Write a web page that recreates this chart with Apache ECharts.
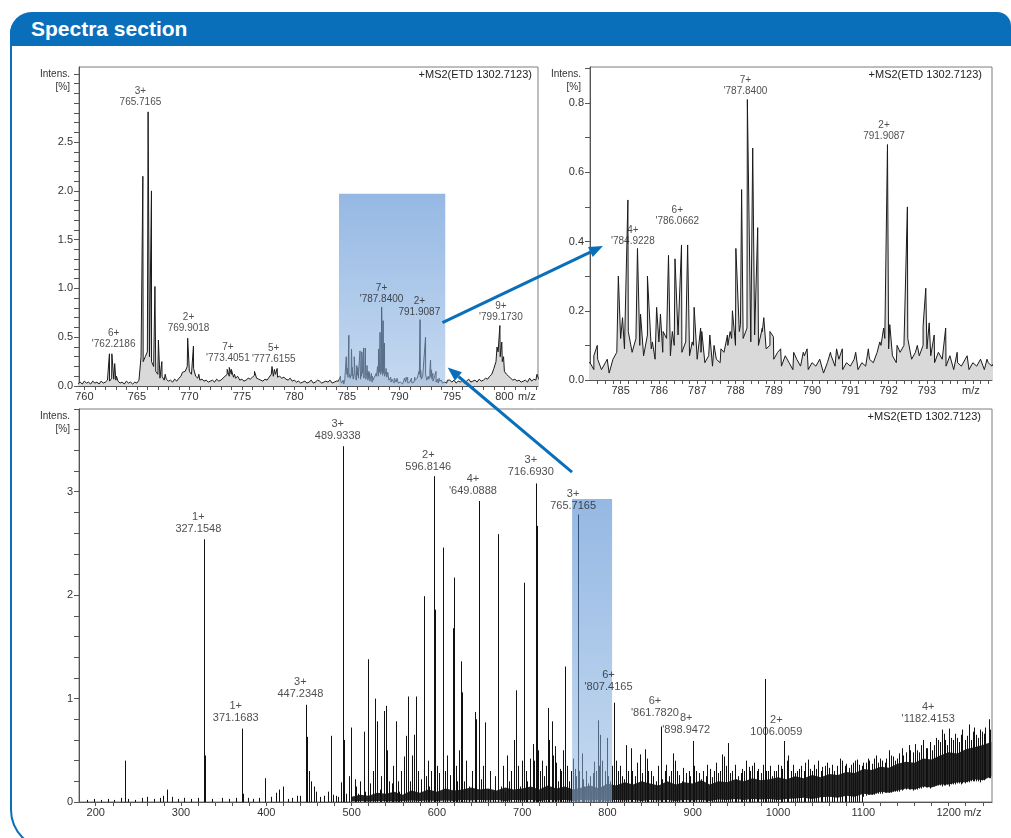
<!DOCTYPE html>
<html>
<head>
<meta charset="utf-8">
<script src="https://cdn.jsdelivr.net/npm/echarts@6/dist/echarts.min.js"></script>
<style>
html, body { margin: 0; padding: 0; width: 1011px; height: 838px; overflow: hidden; background: #fff; }
#frame { position: absolute; left: 10px; top: 12px; width: 1060px; height: 838px; box-sizing: border-box;
  border-left: 2px solid #0a6fba; border-bottom: 2px solid #0a6fba; border-top-left-radius: 22px; border-bottom-left-radius: 40px; }
#head { position: absolute; left: 10px; top: 12px; width: 1001px; height: 34px; box-sizing: border-box; padding-left: 21px;
  background: #0a6fba; border-top-left-radius: 22px; border-top-right-radius: 14px;
  color: #fff; font: bold 21px "Liberation Sans", Arial, sans-serif; line-height: 34px; }
#chart { position: absolute; left: 0; top: 0; width: 1011px; height: 838px; }
</style>
</head>
<body>
<div id="frame"></div>
<div id="head">Spectra section</div>
<div id="chart"></div>
<script>
// ---- profile spectrum 759-804 m/z (shared by the two upper panels) ----
var noiseWideStart = 759.4, noiseWideStep = 0.2;
var noiseWide = [
    .02, .04, .02,
    .05, .03, .04, .02, .05,  .03, .04, .02, .05, .03,  .04, .06, .05, .08, .07,
    .06, .05, .03, .04, .02,  .05, .03, .04, .02, .04,  .03, .06, .30, .25, .30,
    .35, .30, .25, .20, .15,  .12, .08, .10, .06, .07,  .05, .06, .04, .07, .05,
    .08, .10, .12, .15, .20,  .15, .12, .18, .10, .08,  .06, .07, .05, .06, .04,
    .05, .06, .04, .07, .05,  .06, .08, .10, .12, .10,  .12, .09, .08, .10, .06,
    .07, .05, .06, .08, .07,  .09, .11, .08, .07, .06,  .05, .07, .06, .09, .12,
    .10, .12, .09, .10, .08,  .09, .07, .06, .08, .05,  .06, .04, .05, .03, .04,
    .05, .03, .04, .06, .03,  .04, .06, .05, .03, .04,  .05, .04, .06, .03, .04,
    .05
];
var noiseZoomStart = 784.2, noiseZoomStep = 0.1;
var noiseZoom = [
    .05, .03, .06, .03, .05, .02, .06, .08,
    .12, .09, .14, .08, .12, .10, .07, .13, .09, .06,
    .11, .08, .12, .07, .10, .13, .08, .11, .07, .10,
    .06, .08, .05, .07, .04, .06, .05, .08, .10, .12,
    .10, .14, .12, .15, .11, .13, .10, .15, .09, .10,
    .06, .08, .04, .07, .05, .03, .06, .04, .07, .03,
    .05, .04, .06, .02, .05, .07, .04, .06, .03, .05,
    .04, .06, .03, .05, .04, .06, .05, .08, .10, .12,
    .09, .07, .05, .08, .10, .12, .06, .08, .07, .10,
    .09, .07, .05, .08, .06, .04, .07, .03, .05, .04,
    .06, .03, .05, .04, .06, .03, .05, .04, .06
];
var noiseTailStart = 795.0, noiseTailStep = 0.2;
var noiseTail = [
    .04, .06, .03, .05, .04,  .06, .03, .05, .07, .04,  .05, .06, .04, .07, .05,
    .06, .08, .07, .10, .12,  .18, .25, .35, .30, .25,  .15, .12, .10, .08, .06,
    .07, .05, .06, .04, .05,  .06, .04, .08, .05, .07,  .06, .09, .05
];
var peaksProfile = [
    [762.39, .33], [762.62, .33], [762.89, .23], [763.06, .10],
    [765.57, 2.15], [766.07, 2.81], [766.39, 2.00], [766.72, 1.02], [767.05, .47], [767.38, .25], [767.70, .12],
    [769.34, .14], [769.84, .49], [770.39, .41], [770.90, .12],
    [773.60, .17], [773.80, .19], [774.00, .17], [774.30, .12], [776.20, .15], [776.45, .10],
    [777.87, .20], [778.10, .17], [778.36, .18], [778.60, .10], [782.30, .06],
    [784.30, .07], [784.39, .10], [784.65, .06], [784.94, .30], [785.05, .18], [785.19, .52], [785.44, .38],
    [785.52, .19], [785.70, .30], [785.83, .11], [785.94, .21], [786.04, .19], [786.11, .14], [786.25, .36],
    [786.35, .14], [786.42, .35], [786.59, .39], [786.75, .39], [786.87, .11], [786.92, .21], [787.09, .15],
    [787.12, .14], [787.33, .13], [787.44, .10], [787.62, .09], [787.79, .13], [787.86, .14], [787.92, .20],
    [788.01, .38], [788.13, .16], [788.16, .55], [788.31, .81], [788.45, .67], [788.58, .44], [788.70, .14],
    [788.74, .18], [788.90, .14], [788.99, .125], [789.18, .09], [789.52, .08], [789.77, .08], [789.87, .09],
    [790.48, .08], [790.64, .09], [790.79, .09], [791.14, .08], [791.47, .09], [791.77, .11], [791.87, .15],
    [791.97, .68], [792.03, .16], [792.22, .10], [792.49, .50], [792.75, .10], [792.90, .155], [792.97, .265],
    [793.06, .165], [793.19, .13], [793.49, .15], [793.79, .08], [794.05, .07], [794.57, .06],
    [799.30, .40], [799.57, .62], [799.75, .45], [799.92, .30], [802.40, .10], [803.10, .12]
];

// ---- wide spectrum 180-1250 m/z (bottom panel): [m/z, top, base] ----
var sticksC = [
    [190, .02], [198, .03], [206, .02], [214, .03], [222, .02], [230, .04], [234, .40], [238, .03], [246, .02],
    [254, .04], [260, .05], [268, .03], [275, .04], [279, .06], [283, .12], [290, .05], [296, .03], [304, .04],
    [312, .03], [320, .04], [327, 2.54], [328, .45], [336, .03], [348, .04], [356, .03], [364, .04], [371, .71],
    [372.5, .08], [378, .04], [384, .03], [392, .04], [398, .23], [405, .05], [411, .09], [415, .12], [419, .15],
    [425, .03], [430, .04], [436, .06], [439, .06], [446.7, .94], [447.8, .63], [450.3, .30], [452.5, .20],
    [455.4, .15], [458, .10], [463, .05], [468, .06], [471.8, .10], [475.7, .64], [478, .07], [482, .06], [484, .05],
    [487, .19], [489.6, 3.44], [491, .60], [494, .08], [497.2, .25], [499.1, .72], [503.8, .22], [507, .08],
    [514, .68], [516, .10], [519.4, 1.38], [527.3, 1.00], [529.6, .78], [533, .12], [538.2, .88], [539.8, .93],
    [544, .20], [551.9, .78], [556, .10], [561.6, .44], [563.6, .64], [566.4, 1.02], [568, .20], [573, .65],
    [575.4, 1.02], [585.1, 1.99], [587, .25], [591, .15], [596.8, 3.15], [597.6, 1.86], [603, .28], [606.6, 2.46],
    [610, .30], [615, .26], [618.3, 1.68], [620.3, 2.17], [624, .20], [628.2, 1.36], [629, 1.06], [632, .20],
    [638, .15], [644.9, .87], [646, .80], [648.8, 2.91], [649.5, 2.27], [652, .22], [656.3, .77], [660, .12],
    [666, .10], [671.2, 2.59], [671.8, 1.35], [675, .15], [680, .10], [684, .20], [690.1, .60], [692.6, 1.08],
    [697, .15], [702.4, 2.12], [706, .20], [712.4, .56], [714, .40], [716.4, 3.08], [717, 2.67], [721, .30],
    [725, .25], [730.7, .91], [734.7, .78], [738.7, .54], [742, .20], [746, .30], [750.7, 1.31], [755, .20],
    [761.7, .32], [765.7, 2.78], [769.7, .47], [773, .15], [777, .18], [781, .10], [784.6, .39], [788.6, .79],
    [791.8, .65], [795, .15], [799.4, .62], [803, .20], [807.7, .96], [812, .30], [817, .25], [821.7, .55],
    [824, .30], [827.6, .52], [832, .25], [838.4, .46], [843.5, .51], [848, .30], [853, .25], [857, .20],
    [862.2, .73], [867, .30], [872, .25], [877.2, .47], [882, .30], [887, .20], [892, .28], [895, .30], [900, .59],
    [904, .30], [910, .22], [915, .25], [919.8, .32], [925, .30], [930, .28], [934.5, .46], [941.7, .57], [946, .30],
    [951, .22], [956, .28], [960, .30], [965.4, .34], [970, .35], [975, .30], [980, .28], [984.5, 1.19], [988, .30],
    [993, .25], [998, .30], [1003, .35], [1007.2, .59], [1010, .40], [1015, .30], [1020, .28], [1025, .32],
    [1030, .30], [1034.9, .41], [1040, .30], [1045, .32], [1050, .30], [1055, .35], [1060, .33], [1066, .30],
    [1072.8, .42], [1078, .35], [1083, .33], [1088, .38], [1092.7, .41], [1098, .35],
    [505, .15], [510, .20], [522, .18], [525, .30], [535, .25], [542, .50], [547, .18], [549, .35], [554, .20],
    [558, .30], [571, .45], [578, .30], [581, .22], [589, .40], [593, .30], [600, .35], [612, .45], [622, .35],
    [626, .50], [634, .40], [641, .30], [654, .35], [662, .30], [668, .25], [677, .35], [682, .45], [687, .30],
    [695, .35], [700, .40], [704, .30], [709, .42], [719, .50], [723, .40], [728, .35], [732, .60], [736, .45],
    [740, .38], [744, .32], [748, .50], [753, .35], [757, .30], [759, .42], [763, .25], [767, .30], [771, .22],
    [775, .30], [779, .25], [783, .28], [786, .30], [790, .35], [793, .40], [797, .30], [801, .25], [805, .35],
    [810, .40], [815, .35], [819, .22], [829, .30], [835, .38], [841, .28], [846, .42], [851, .30], [859, .35],
    [864, .22], [869, .36], [874, .30], [879, .40], [884, .26], [889, .33], [897, .25], [902, .35], [907, .28],
    [912, .30], [917, .36], [922, .24], [927, .38], [932, .30], [937, .44], [939, .35], [944, .28], [949, .36],
    [953, .25], [958, .32], [962, .40], [967, .30], [972, .38], [977, .32], [982, .36], [986, .30], [991, .35],
    [995, .30], [1000, .36], [1005, .32], [1012, .45], [1017, .36], [1022, .30], [1027, .35], [1032, .38],
    [1037, .32], [1042, .36], [1047, .40], [1052, .34], [1057, .38], [1063, .36], [1069, .35], [1075, .40],
    [1080, .37], [1085, .36], [1090, .40], [1095, .36], [1100, .38, .05],
    [1103, .38, .06], [1105, .42, .07], [1107, .40, .07], [1110, .37, .07], [1112.5, .42, .07], [1115, .45, .08],
    [1117, .38, .08], [1120, .42, .08], [1122, .40, .08], [1125, .38, .09], [1127, .42, .09], [1130, .50, .09],
    [1132, .45, .09], [1135, .44, .10], [1137, .40, .10], [1140, .42, .10], [1142, .47, .10], [1145, .52, .11],
    [1147, .45, .12], [1150, .48, .12], [1153.1, .55, .12], [1155, .50, .12], [1158, .48, .11], [1160, .56, .12],
    [1163, .50, .12], [1165, .48, .13], [1168, .55, .13], [1170, .60, .14], [1173, .52, .14], [1175, .52, .14],
    [1178, .58, .13], [1180, .50, .15], [1183, .55, .15], [1185, .62, .16], [1187, .60, .16], [1190, .58, .16],
    [1192.7, .70, .15], [1194, .66, .16], [1196, .60, .16], [1198, .55, .17], [1200.7, .71, .15], [1203, .62, .17],
    [1205, .60, .17], [1207, .66, .17], [1210, .62, .18], [1212, .58, .18], [1214, .65, .17], [1216, .70, .18],
    [1219, .60, .18], [1221, .64, .19], [1223.7, .75, .19], [1226, .60, .20], [1228, .68, .20], [1230, .72, .20],
    [1232, .65, .20], [1234, .62, .20], [1237, .70, .19], [1239, .68, .21], [1241, .66, .21], [1243, .72, .22],
    [1246.7, .80, .23], [1248, .70, .23]
];
// noise floor of the wide spectrum, every 10 m/z from 500
var bandStartC = 500, bandStepC = 10;
var bandLowC = [
    .005, .01, .005, .01, .01, .005, .01, .015, .01, .015,
    .01, .015, .01, .02, .015, .02, .015, .02, .01, .02,
    .015, .02, .01, .02, .015, .02, .01, .02, .015, .02,
    .01, .02, .015, .02, .01, .02, .015, .02, .01, .02,
    .015, .02, .01, .025, .02, .03, .02, .03, .025, .03,
    .02, .03, .035, .04, .03, .045, .05, .04, .06, .05,
    .08, .07, .10, .09, .11, .13, .12, .15, .14, .17,
    .17, .19, .19, .22, .21, .25
];
var bandHighC = [
    .05, .07, .06, .09, .08, .10, .07, .11, .09, .12,
    .10, .13, .11, .12, .14, .12, .13, .11, .14, .12,
    .13, .15, .12, .16, .13, .15, .12, .14, .16, .13,
    .18, .16, .19, .17, .20, .18, .16, .20, .17, .19,
    .18, .21, .17, .20, .19, .22, .20, .23, .21, .22,
    .24, .22, .25, .23, .26, .24, .27, .26, .29, .28,
    .32, .31, .34, .33, .37, .39, .38, .42, .41, .45,
    .48, .47, .51, .53, .55, .58
];

// ---- peak annotations: [m/z, intensity under the text, charge, mass] ----
var annotA = [
    [762.79, .36, '6+', "'762.2186"], [765.34, 2.84, '3+', '765.7165'], [769.92, .53, '2+', '769.9018'],
    [773.67, .22, '7+', "'773.4051"], [778.03, .21, '5+', "'777.6155"], [788.30, .82, '7+', "'787.8400"],
    [791.90, .69, '2+', '791.9087'], [799.67, .64, '9+', "'799.1730"]
];
var annotB = [
    [785.32, .383, '4+', "'784.9228"], [786.48, .441, '6+', "'786.0662"],
    [788.26, .815, '7+', "'787.8400"], [791.88, .686, '2+', '791.9087']
];
var annotC = [
    [320.3, 2.57, '1+', '327.1548'], [364.2, .74, '1+', '371.1683'], [439.9, .974, '3+', '447.2348'],
    [483.7, 3.475, '3+', '489.9338'], [589.9, 3.17, '2+', '596.8146'], [642.3, 2.94, '4+', "'649.0888"],
    [710.1, 3.124, '3+', '716.6930'], [759.7, 2.797, '3+', '765.7165'], [801.2, 1.045, '6+', "'807.4165"],
    [855.6, .79, '6+', "'861.7820"], [892.3, .625, '8+', "'898.9472"], [997.9, .613, '2+', '1006.0059'],
    [1176, .734, '4+', "'1182.4153"]
];

// zoomed windows [from m/z, to m/z, top intensity]
var windowA = [[784.25, 794.37, 1.97]];
var windowC = [[758.5, 805.4, 2.93]];
// callout arrows: [panel, m/z, intensity] -> [panel, m/z, intensity]
var arrowsList = [
    [[0, 794.1, .65], [1, 784.54, .387]],
    [[2, 758.4, 3.19], [0, 794.6, .19]]
];

// ---- axes ----
var xLabelsA = [760, 765, 770, 775, 780, 785, 790, 795, 800], mzPosA = 802.15;
var yLabelsA = [0, 0.5, 1, 1.5, 2, 2.5];
var xLabelsB = [785, 786, 787, 788, 789, 790, 791, 792, 793], mzPosB = 794.15;
var yLabelsB = [0, 0.2, 0.4, 0.6, 0.8];
var xLabelsC = [200, 300, 400, 500, 600, 700, 800, 900, 1000, 1100, 1200], mzPosC = 1228;
var yLabelsC = [0, 1, 2, 3];
var titleText = '+MS2(ETD 1302.7123)';

var FONT = '"Liberation Sans", Arial, sans-serif';
var BLUE = '#0a6fba';

function steps(a, b, s) {
    var out = [];
    for (var v = a; v <= b + 1e-9; v += s) out.push(Math.round(v * 1000) / 1000);
    return out;
}
function gridPoints(start, step, vals) {
    return vals.map(function (v, i) { return [Math.round((start + i * step) * 100) / 100, v]; });
}

var profile = gridPoints(noiseWideStart, noiseWideStep, noiseWide)
    .concat(gridPoints(noiseZoomStart, noiseZoomStep, noiseZoom))
    .concat(gridPoints(noiseTailStart, noiseTailStep, noiseTail))
    .concat(peaksProfile)
    .sort(function (a, b) { return a[0] - b[0]; });

var chart = echarts.init(document.getElementById('chart'));

function xAxis(gi, min, max, labels, mzPos, ticks) {
    return {
        type: 'value', gridIndex: gi, min: min, max: max,
        axisLine: { show: true, onZero: false, lineStyle: { color: '#555', width: 1 } },
        axisTick: { show: true, length: 4, customValues: ticks, lineStyle: { color: '#555' } },
        axisLabel: {
            customValues: labels.concat([mzPos]), color: '#333', fontSize: 11, fontFamily: FONT, margin: 5,
            formatter: function (v) { return Math.abs(v - mzPos) < 1e-6 ? 'm/z' : String(v); }
        },
        splitLine: { show: false }
    };
}
function yAxis(gi, max, labels, digits, ticks) {
    return {
        type: 'value', gridIndex: gi, min: 0, max: max,
        axisLine: { show: true, onZero: false, lineStyle: { color: '#555', width: 1 } },
        axisTick: { show: true, length: 5, customValues: ticks, lineStyle: { color: '#555' } },
        axisLabel: {
            customValues: labels, color: '#333', fontSize: 11, fontFamily: FONT, margin: 6,
            formatter: function (v) { return v.toFixed(digits); }
        },
        splitLine: { show: false }
    };
}
function labelSeries(gi, list, size) {
    return {
        type: 'scatter', xAxisIndex: gi, yAxisIndex: gi, symbolSize: 0, silent: true, z: 6,
        data: list.map(function (a) { return { value: [a[0], a[1]], name: a[2] + '\n' + a[3] }; }),
        label: {
            show: true, position: 'top', distance: 1, formatter: '{b}', color: '#222',
            fontSize: size, lineHeight: size + 1, fontFamily: FONT, align: 'center'
        }
    };
}
function windowSeries(gi, list) {
    return {
        type: 'custom', xAxisIndex: gi, yAxisIndex: gi, silent: true, z: 4, data: list,
        renderItem: function (params, api) {
            var p0 = api.coord([api.value(0), api.value(2)]);
            var p1 = api.coord([api.value(1), 0]);
            return {
                type: 'rect',
                shape: { x: p0[0], y: p0[1], width: p1[0] - p0[0], height: p1[1] - p0[1] },
                style: {
                    fill: new echarts.graphic.LinearGradient(0, 0, 0, 1, [
                        { offset: 0, color: 'rgb(62,126,204)' }, { offset: 1, color: 'rgb(150,186,228)' }
                    ]),
                    opacity: 0.55
                }
            };
        }
    };
}
function profileSeries(gi) {
    return {
        type: 'line', xAxisIndex: gi, yAxisIndex: gi, data: profile, symbol: 'none', silent: true, z: 3,
        lineStyle: { color: '#1b1b1b', width: 1 },
        areaStyle: { color: '#d9d9d9', opacity: 1 }
    };
}

var option = {
    animation: false,
    grid: [
        { left: 79, top: 67, width: 459, height: 319, show: true, borderColor: '#7d7d7d', borderWidth: 1 },
        { left: 590, top: 67, width: 402, height: 313, show: true, borderColor: '#7d7d7d', borderWidth: 1 },
        { left: 79, top: 409, width: 913, height: 393, show: true, borderColor: '#7d7d7d', borderWidth: 1 }
    ],
    xAxis: [
        xAxis(0, 759.49, 803.2, xLabelsA, mzPosA, steps(760, 803, 1)),
        xAxis(1, 784.2, 794.7, xLabelsB, mzPosB, steps(784.4, 794.6, 0.2)),
        xAxis(2, 180.4, 1250.8, xLabelsC, mzPosC, steps(200, 1240, 20))
    ],
    yAxis: [
        yAxis(0, 3.27, yLabelsA, 1, steps(0, 3.2, 0.1)),
        yAxis(1, 0.904, yLabelsB, 1, steps(0, 0.9, 0.1)),
        yAxis(2, 3.80, yLabelsC, 0, steps(0, 3.8, 0.2))
    ],
    graphic: [],
    series: [
        profileSeries(0),
        profileSeries(1),
        {
            type: 'custom', xAxisIndex: 2, yAxisIndex: 2, silent: true, z: 2, clip: true,
            data: [[bandStartC, 0]],
            renderItem: function (params, api) {
                var pts = [], i;
                for (i = 0; i < bandHighC.length; i++) pts.push(api.coord([bandStartC + i * bandStepC, bandHighC[i]]));
                for (i = bandLowC.length - 1; i >= 0; i--) pts.push(api.coord([bandStartC + i * bandStepC, bandLowC[i]]));
                return { type: 'polygon', shape: { points: pts }, style: { fill: '#262626' } };
            }
        },
        {
            type: 'custom', xAxisIndex: 2, yAxisIndex: 2, silent: true, z: 3, clip: true,
            dimensions: ['mz', 'top', 'base'],
            data: sticksC.map(function (s) { return [s[0], s[1], s.length > 2 ? s[2] : 0]; }),
            renderItem: function (params, api) {
                var p0 = api.coord([api.value(0), api.value(2)]);
                var p1 = api.coord([api.value(0), api.value(1)]);
                var x = Math.round(p0[0]) + 0.5;
                return { type: 'line', shape: { x1: x, y1: p0[1], x2: x, y2: p1[1] }, style: { stroke: '#111', lineWidth: 1 } };
            }
        },
        windowSeries(0, windowA),
        windowSeries(2, windowC),
        labelSeries(0, annotA, 10),
        labelSeries(1, annotB, 10),
        labelSeries(2, annotC, 11)
    ]
};
chart.setOption(option);

// texts and arrows positioned from the laid-out grids
var gfx = [];
var titleGap = [6, 10, 11];
option.grid.forEach(function (g, i) {
    gfx.push({
        type: 'text', x: g.left - 9, y: g.top + 1, z: 10, silent: true,
        style: { text: 'Intens.\n[%]', fill: '#333', font: '10px ' + FONT, align: 'right', verticalAlign: 'top', lineHeight: 13 }
    });
    gfx.push({
        type: 'text', x: g.left + g.width - titleGap[i], y: g.top + 2, z: 10, silent: true,
        style: { text: titleText, fill: '#222', font: '11px ' + FONT, align: 'right', verticalAlign: 'top' }
    });
});
arrowsList.forEach(function (a) {
    var p0 = chart.convertToPixel({ gridIndex: a[0][0] }, [a[0][1], a[0][2]]);
    var p1 = chart.convertToPixel({ gridIndex: a[1][0] }, [a[1][1], a[1][2]]);
    var ang = Math.atan2(p1[1] - p0[1], p1[0] - p0[0]);
    var L = 14, W = 5.5;
    var bx = p1[0] - L * Math.cos(ang), by = p1[1] - L * Math.sin(ang);
    gfx.push({
        type: 'line', z: 20, silent: true,
        shape: { x1: p0[0], y1: p0[1], x2: bx, y2: by },
        style: { stroke: BLUE, lineWidth: 3 }
    });
    gfx.push({
        type: 'polygon', z: 20, silent: true,
        shape: { points: [[p1[0], p1[1]], [bx + W * Math.sin(ang), by - W * Math.cos(ang)], [bx - W * Math.sin(ang), by + W * Math.cos(ang)]] },
        style: { fill: BLUE }
    });
});
chart.setOption({ graphic: gfx });
</script>
</body>
</html>
